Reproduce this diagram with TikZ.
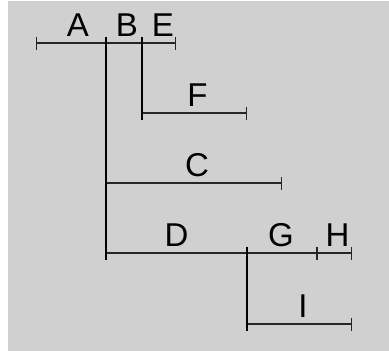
\documentclass[tikz,border=0pt]{standalone}
\usepackage{fontspec}
\setmainfont{Liberation Sans}
\usetikzlibrary{arrows.meta}
\definecolor{panelGray}{RGB}{208,208,208}
\begin{document}
\begin{tikzpicture}[
    x=1pt, y=-1pt,
    % Define the style for the leaf labels
    tLabel/.style={
        font=\fontsize{33}{36}\selectfont,
        anchor=base,
        inner sep=0pt
    },
    % Define the style for the horizontal segments
    segStyle/.style={
        draw=black!85,
        line width=1.1pt,
        {Bar[width=13pt,line width=1.1pt]}-{Bar[width=13pt,line width=1.1pt]}
    },
    % Define the style for the vertical stems
    stemStyle/.style={
        draw=black,
        line width=1.1pt
    }
]

    % --- CANVAS ---
    \useasboundingbox (0,0) rectangle (389,351);
    \fill[panelGray] (8,1) rectangle (389,351);

    % --- COORDINATE DEFINITIONS ---
    % Top row (A, B, E)
    \coordinate (a0) at (36,43);
    \coordinate (ab) at (106,43);
    \coordinate (be) at (142,43);
    \coordinate (e1) at (176,43);
    % Branch F
    \coordinate (f0) at (142,113);
    \coordinate (f1) at (247,113);
    % Branch C
    \coordinate (c0) at (106,183);
    \coordinate (c1) at (282,183);
    % Branch D, G, H
    \coordinate (d0) at (106,253);
    \coordinate (dg) at (247,253);
    \coordinate (gh) at (317,253);
    \coordinate (h1) at (352,253);
    % Branch I
    \coordinate (i0) at (247,324);
    \coordinate (i1) at (352,324);

    % --- LABELS ---
    \node[tLabel] (A) at (78,36) {A};
    \node[tLabel] (B) at (127,36) {B};
    \node[tLabel] (E) at (163,36) {E};
    \node[tLabel] (F) at (197.5,106) {F};
    \node[tLabel] (C) at (197,176) {C};
    \node[tLabel] (D) at (176.5,246) {D};
    \node[tLabel] (G) at (281,246) {G};
    \node[tLabel] (H) at (337.5,246) {H};
    \node[tLabel] (I) at (303,317) {I};

    % --- SEGMENTS ---
    \draw[segStyle] (a0) -- (ab);
    \draw[segStyle] (ab) -- (be);
    \draw[segStyle] (be) -- (e1);
    \draw[segStyle] (f0) -- (f1);
    \draw[segStyle] (c0) -- (c1);
    \draw[segStyle] (d0) -- (dg);
    \draw[segStyle] (dg) -- (gh);
    \draw[segStyle] (gh) -- (h1);
    \draw[segStyle] (i0) -- (i1);

    % --- STEMS ---
    \draw[stemStyle] ([yshift=6.5pt]ab) -- ([yshift=-6.5pt]d0);
    \draw[stemStyle] ([yshift=6.5pt]be) -- ([yshift=-6.5pt]f0);
    \draw[stemStyle] ([yshift=6.5pt]dg) -- ([yshift=-6.5pt]i0);

\end{tikzpicture}
\end{document}
